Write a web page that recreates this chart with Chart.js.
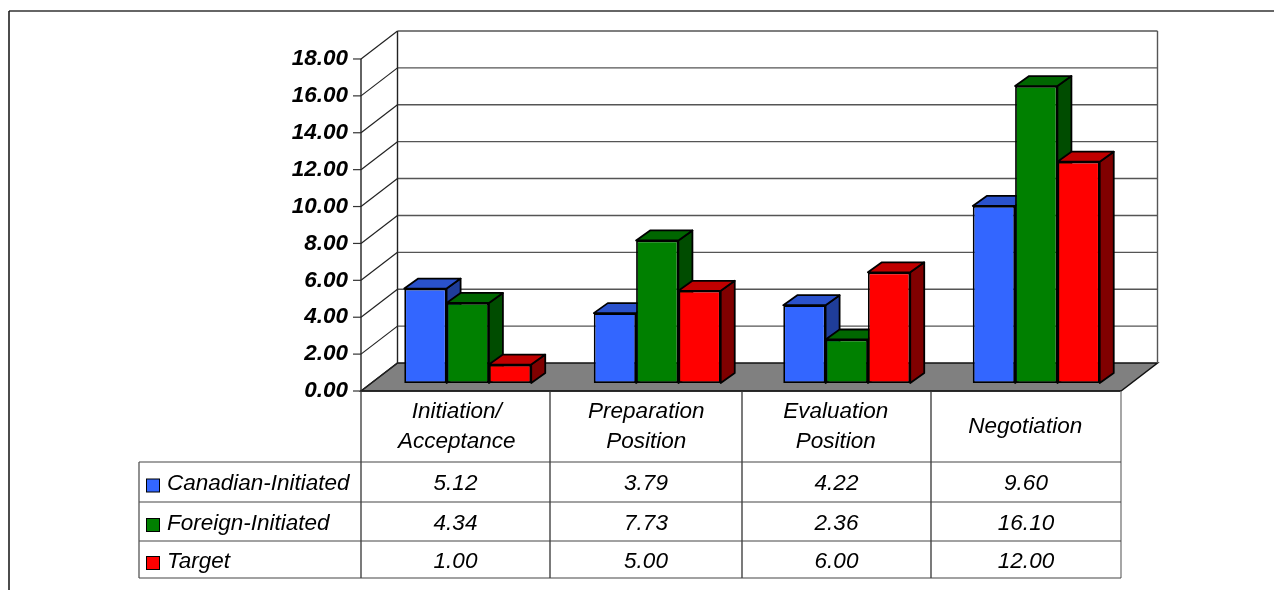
<!DOCTYPE html>
<html lang="en">
  <head>
    <meta charset="UTF-8" />
    <title>Chart</title>
    <style>
      html, body { margin: 0; padding: 0; background: #fff; overflow: hidden; }
      canvas { display: block; }
    </style>
  </head>
  <body>
    <canvas id="chart" width="1274" height="590"></canvas>

    <script src="https://cdn.jsdelivr.net/npm/chart.js"></script>
    <script>
      const categories = [["Initiation/", "Acceptance"], ["Preparation", "Position"], ["Evaluation", "Position"], "Negotiation"];
      const canadian = [5.12, 3.79, 4.22, 9.6];
      const foreign = [4.34, 7.73, 2.36, 16.1];
      const target = [1, 5, 6, 12];
      const seriesNames = ["Canadian-Initiated", "Foreign-Initiated", "Target"];
      const seriesValues = [canadian, foreign, target];
      const frontColors = ["#3366ff", "#008000", "#ff0000"];
      const topColors = ["#2a52cc", "#006600", "#c00000"];
      const sideColors = ["#1f3d99", "#004c00", "#800000"];

      const FONT = '"Liberation Sans", Arial, sans-serif';
      const wall = { dx: 36.5, dy: 28 };
      const bar = { dx: 14, dy: 10 };
      const tableCols = [361, 550, 742, 931, 1121];
      const tableRows = [462, 502, 541, 578];
      const tableLeft = 139;
      const pxPerUnit = 18.5;
      const barLift = 8 / pxPerUnit;

      function poly(ctx, pts, fill, stroke, width) {
        ctx.beginPath();
        pts.forEach((p, i) => (i ? ctx.lineTo(p[0], p[1]) : ctx.moveTo(p[0], p[1])));
        ctx.closePath();
        if (fill) {
          ctx.fillStyle = fill;
          ctx.fill();
        }
        if (stroke) {
          ctx.strokeStyle = stroke;
          ctx.lineWidth = width;
          ctx.stroke();
        }
      }

      function line(ctx, x1, y1, x2, y2, color, width) {
        ctx.beginPath();
        ctx.moveTo(x1, y1);
        ctx.lineTo(x2, y2);
        ctx.strokeStyle = color;
        ctx.lineWidth = width;
        ctx.stroke();
      }

      const box3d = {
        id: "box3d",
        beforeDatasetsDraw(chart) {
          const ctx = chart.ctx;
          const axis = chart.scales.yAxis;
          const x0 = tableCols[0];
          const x1 = tableCols[4];
          const y0 = axis.getPixelForValue(0);
          ctx.save();
          // floor
          poly(ctx, [[x0, y0], [x0 + wall.dx, y0 - wall.dy], [x1 + wall.dx, y0 - wall.dy], [x1, y0]], "#808080", "#111", 1.5);
          // grid on both walls
          axis.ticks.forEach((t) => {
            const y = axis.getPixelForValue(t.value);
            line(ctx, x0 - 8, y, x0, y, "#333", 1.2);
            line(ctx, x0, y, x0 + wall.dx, y - wall.dy, "#222", 1.2);
            if (t.value > 0) line(ctx, x0 + wall.dx, y - wall.dy, x1 + wall.dx, y - wall.dy, "#555", 1.4);
          });
          const top = axis.getPixelForValue(18);
          line(ctx, x0, y0, x0, top, "#222", 1.4);
          line(ctx, x0 + wall.dx, y0 - wall.dy, x0 + wall.dx, top - wall.dy, "#222", 1.4);
          line(ctx, x1 + wall.dx, y0 - wall.dy, x1 + wall.dx, top - wall.dy, "#555", 1.4);

          // sides and tops of the bars, left series first; chart.js puts the fronts on after
          ctx.lineJoin = "round";
          seriesNames.forEach((name, i) => {
            chart.getDatasetMeta(i).data.forEach((el) => {
              const p = el.getProps(["x", "y", "base", "width"], true);
              const l = p.x - p.width / 2;
              const r = p.x + p.width / 2;
              poly(ctx, [[r, p.y], [r + bar.dx, p.y - bar.dy], [r + bar.dx, p.base - bar.dy], [r, p.base]], sideColors[i], "#000", 1.8);
              poly(ctx, [[l, p.y], [l + bar.dx, p.y - bar.dy], [r + bar.dx, p.y - bar.dy], [r, p.y]], topColors[i], "#000", 1.8);
            });
          });
          ctx.restore();
        },
        afterDraw(chart) {
          const ctx = chart.ctx;
          const bottom = tableRows[tableRows.length - 1];
          ctx.save();
          // page frame
          line(ctx, 9, 11, 1274, 11, "#333", 1.5);
          line(ctx, 9, 11, 9, 590, "#111", 1.5);
          // data table
          const y0 = chart.scales.yAxis.getPixelForValue(0);
          line(ctx, tableCols[0], y0, tableCols[4], y0, "#222", 1.5);
          tableCols.forEach((x, i) => line(ctx, x, y0, x, bottom, i === 4 ? "#777" : "#333", 1.3));
          tableRows.forEach((y) => line(ctx, tableLeft, y, tableCols[4], y, "#444", 1.2));
          line(ctx, tableLeft, tableRows[0], tableLeft, bottom, "#555", 1.3);

          ctx.font = "italic 22.5px " + FONT;
          ctx.textBaseline = "middle";
          seriesNames.forEach((name, r) => {
            const yc = (tableRows[r] + tableRows[r + 1]) / 2 + 1;
            ctx.fillStyle = frontColors[r];
            ctx.strokeStyle = "#000";
            ctx.lineWidth = 1;
            ctx.fillRect(146.5, yc - 4, 13, 13);
            ctx.strokeRect(146.5, yc - 4, 13, 13);
            ctx.fillStyle = "#000";
            ctx.textAlign = "left";
            ctx.fillText(name, 167, yc + 1);
            ctx.textAlign = "center";
            seriesValues[r].forEach((v, c) => {
              ctx.fillText(v.toFixed(2), (tableCols[c] + tableCols[c + 1]) / 2, yc + 1);
            });
          });
          ctx.restore();
        },
      };

      new Chart(document.getElementById("chart"), {
        type: "bar",
        data: {
          labels: categories,
          datasets: seriesNames.map((name, i) => ({
            label: name,
            data: seriesValues[i],
            yAxisID: "y",
            backgroundColor: frontColors[i],
            borderColor: "#000",
            borderWidth: 1.8,
            borderSkipped: false,
            categoryPercentage: 0.67,
            barPercentage: 1,
          })),
        },
        plugins: [box3d],
        options: {
          responsive: false,
          animation: false,
          events: [],
          layout: { padding: { left: 0, right: 143, top: 51, bottom: 0 } },
          plugins: { legend: { display: false }, tooltip: { enabled: false } },
          scales: {
            x: {
              grid: { display: false },
              border: { display: false },
              afterFit(s) { s.height = 199; },
              ticks: {
                color: "#000",
                font: { family: FONT, size: 22.5, style: "italic", lineHeight: 1.333 },
                autoSkip: false,
                maxRotation: 0,
                labelOffset: -11,
                padding: 13,
                crossAlign: "center",
              },
            },
            y: { display: false, min: -barLift, max: 18 },
            yAxis: {
              position: "left",
              min: 0,
              max: 18 + barLift,
              grid: { display: false, drawTicks: false },
              border: { display: false },
              afterFit(s) { s.width = 373; },
              ticks: {
                stepSize: 2,
                includeBounds: false,
                color: "#000",
                padding: 25,
                font: { family: FONT, size: 22.5, style: "italic", weight: "bold" },
                callback: (v) => v.toFixed(2),
              },
            },
          },
        },
      });
    </script>
  </body>
</html>
